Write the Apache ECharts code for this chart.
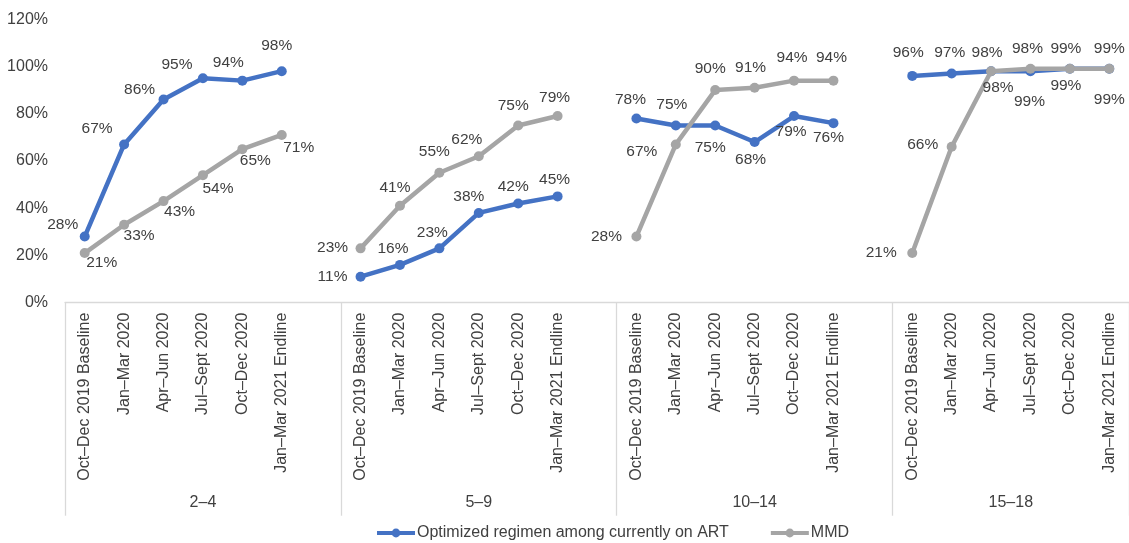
<!DOCTYPE html>
<html>
<head>
<meta charset="utf-8">
<style>
  html, body { margin: 0; padding: 0; background: #ffffff; }
  #chart { width: 1129px; height: 543px; }
</style>
<script src="https://cdn.jsdelivr.net/npm/echarts@6/dist/echarts.min.js"></script>
</head>
<body>
<div id="chart"></div>
<script>
// Reporting periods shown inside each age band
const periods = ['Oct–Dec 2019 Baseline', 'Jan–Mar 2020', 'Apr–Jun 2020', 'Jul–Sept 2020', 'Oct–Dec 2020', 'Jan–Mar 2021 Endline'];
// Age bands (outer category level)
const ageGroups = ['2–4', '5–9', '10–14', '15–18'];

// Optimized regimen among currently on ART (%), one list per age band
const optimized2to4 = [28, 67, 86, 95, 94, 98];
const optimized5to9 = [11, 16, 23, 38, 42, 45];
const optimized10to14 = [78, 75, 75, 68, 79, 76];
const optimized15to18 = [96, 97, 98, 98, 99, 99];

// MMD (%), one list per age band
const mmd2to4 = [21, 33, 43, 54, 65, 71];
const mmd5to9 = [23, 41, 55, 62, 75, 79];
const mmd10to14 = [28, 67, 90, 91, 94, 94];
const mmd15to18 = [21, 66, 98, 99, 99, 99];

// Y axis tick range (%)
const yTicks = { min: 0, max: 120, step: 20 };

// Data label placement, pixel shift from each point
const optimizedLabelShift = [
  [[-22, -12], [-27, -16], [-24, -10], [-26, -14], [-14, -18], [-5, -25]],
  [[-28, 0], [-7, -16], [-7, -16], [-10, -16], [-5, -17], [-3, -17]],
  [[-6, -19], [-4, -21], [-5, 22], [-4, 18], [-3, 16], [-5, 15]],
  [[-4, -23], [-2, -21], [-4, -18], [-3, -22], [-4, -20], [0, -20]]
];
const mmdLabelShift = [
  [[17, 10], [15, 11], [16, 11], [15, 14], [13, 12], [17, 13]],
  [[-28, -1], [-5, -18], [-5, -21], [-12, -17], [-5, -20], [-3, -18]],
  [[-30, 0], [-34, 7], [-5, -21], [-4, -20], [-2, -23], [-2, -23]],
  [[-31, 0], [-29, -2], [7, 17], [-1, 33], [-4, 17], [0, 31]]
];

const optimizedGroups = [optimized2to4, optimized5to9, optimized10to14, optimized15to18];
const mmdGroups = [mmd2to4, mmd5to9, mmd10to14, mmd15to18];

// Flatten the bands onto one category axis; an empty slot after each band
// breaks the lines between bands.
const slotsPerGroup = periods.length + 1;
const categoryAxisData = [];
ageGroups.forEach(function (g, gi) {
  periods.forEach(function (p) { categoryAxisData.push(p); });
  if (gi < ageGroups.length - 1) categoryAxisData.push('');
});
const totalSlots = categoryAxisData.length;

function buildSeriesData(groups, shifts) {
  const out = [];
  groups.forEach(function (vals, gi) {
    vals.forEach(function (v, i) {
      out.push({ value: v, label: { offset: shifts[gi][i] } });
    });
    if (gi < groups.length - 1) out.push({ value: null });
  });
  return out;
}

// Band separators and band-label positions on a 0..totalSlots scale
const bandEdges = [];
const bandCenters = [];
ageGroups.forEach(function (g, gi) {
  const start = gi * slotsPerGroup;
  const end = Math.min(start + slotsPerGroup, totalSlots);
  bandEdges.push(start);
  bandCenters.push((start + end) / 2);
});
bandEdges.push(totalSlots);

const FONT = 'Liberation Sans';
const TEXT = '#404040';
const GRIDLINE = '#d9d9d9';
const BLUE = '#4472C4';
const GREY = '#A5A5A5';

const chart = echarts.init(document.getElementById('chart'), null, { renderer: 'canvas' });

const labelStyle = {
  show: true,
  position: 'inside',
  formatter: '{c}%',
  fontFamily: FONT,
  fontSize: 15.5,
  color: TEXT
};

chart.setOption({
  animation: false,
  textStyle: { fontFamily: FONT },
  grid: { left: 65, right: -3, top: 19.2, bottom: 240.3, containLabel: false },
  legend: {
    left: 370,
    top: 520,
    itemWidth: 38,
    itemHeight: 11,
    itemGap: 40,
    lineStyle: { width: 4 },
    textStyle: { fontFamily: FONT, fontSize: 16, color: TEXT, padding: [0, 0, 0, -3] },
    data: ['Optimized regimen among currently on ART', 'MMD']
  },
  xAxis: [
    {
      type: 'category',
      data: categoryAxisData,
      boundaryGap: true,
      axisLine: { show: true, lineStyle: { color: GRIDLINE, width: 1.3 } },
      axisTick: { show: false },
      splitLine: { show: false },
      axisLabel: {
        interval: 0,
        rotate: 90,
        margin: 10,
        fontFamily: FONT,
        fontSize: 16,
        color: TEXT
      }
    },
    {
      type: 'value',
      position: 'bottom',
      min: 0,
      max: totalSlots,
      axisLine: { show: false },
      splitLine: { show: false },
      axisTick: {
        show: true,
        customValues: bandEdges,
        length: 213,
        lineStyle: { color: GRIDLINE, width: 1.3 }
      },
      axisLabel: {
        customValues: bandCenters,
        margin: 192,
        fontFamily: FONT,
        fontSize: 16,
        color: TEXT,
        formatter: function (v) {
          const idx = bandCenters.indexOf(v);
          return idx >= 0 ? ageGroups[idx] : '';
        }
      }
    }
  ],
  yAxis: {
    type: 'value',
    min: yTicks.min,
    max: yTicks.max,
    interval: yTicks.step,
    axisLine: { show: false },
    axisTick: { show: false },
    splitLine: { show: false },
    axisLabel: {
      margin: 17,
      fontFamily: FONT,
      fontSize: 16,
      color: TEXT,
      formatter: '{value}%'
    }
  },
  series: [
    {
      name: 'Optimized regimen among currently on ART',
      type: 'line',
      xAxisIndex: 0,
      data: buildSeriesData(optimizedGroups, optimizedLabelShift),
      connectNulls: false,
      symbol: 'circle',
      symbolSize: 10,
      color: BLUE,
      lineStyle: { color: BLUE, width: 4.5 },
      itemStyle: { color: BLUE },
      label: labelStyle,
      emphasis: { disabled: true },
      z: 3
    },
    {
      name: 'MMD',
      type: 'line',
      xAxisIndex: 0,
      data: buildSeriesData(mmdGroups, mmdLabelShift),
      connectNulls: false,
      symbol: 'circle',
      symbolSize: 10,
      color: GREY,
      lineStyle: { color: GREY, width: 4.5 },
      itemStyle: { color: GREY },
      label: labelStyle,
      emphasis: { disabled: true },
      z: 4
    }
  ]
});
</script>
</body>
</html>
